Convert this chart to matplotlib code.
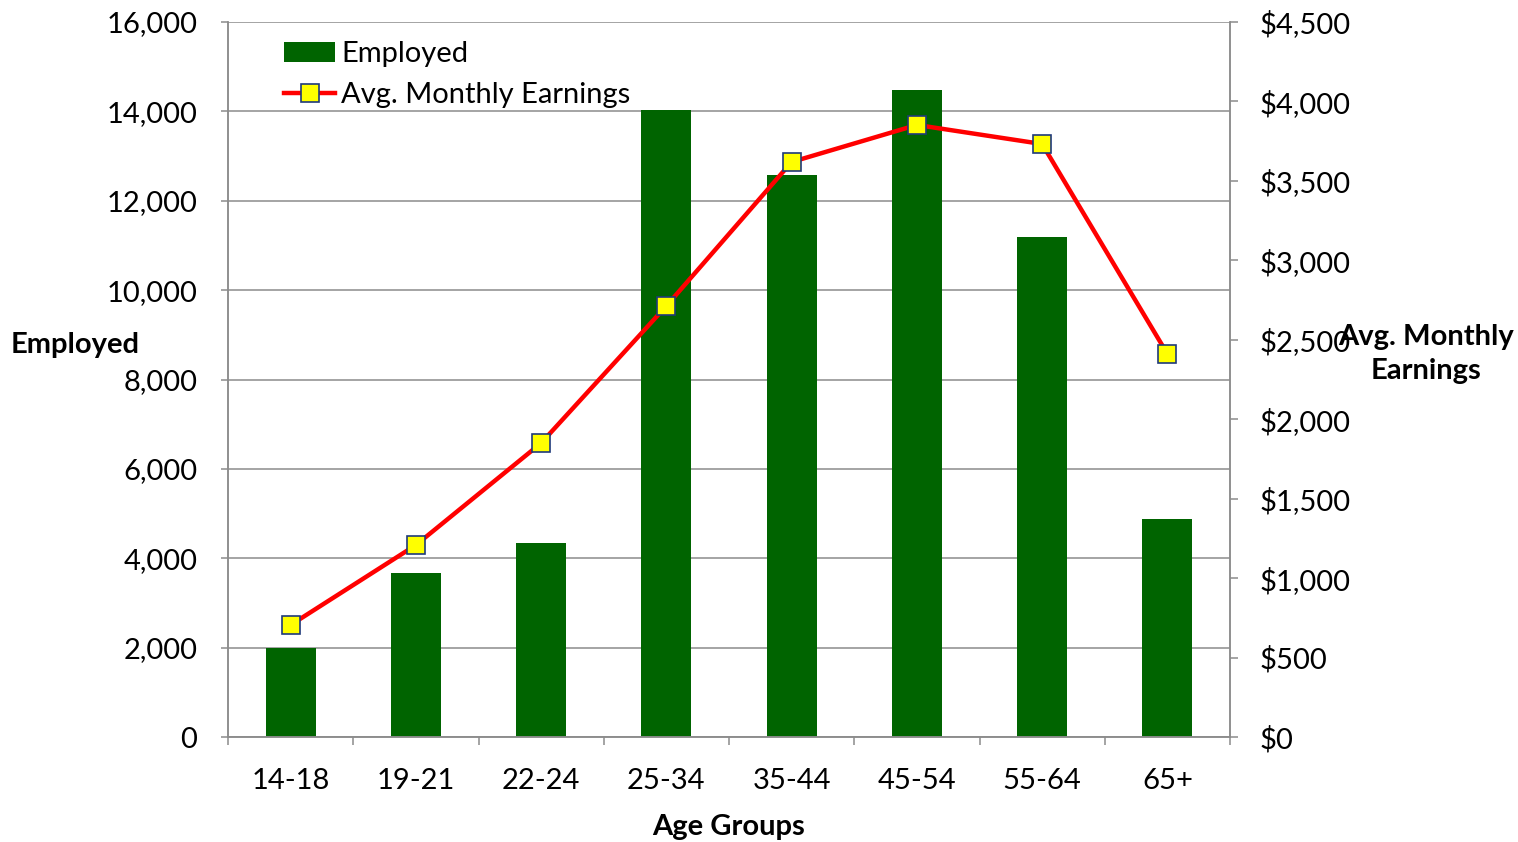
import matplotlib
matplotlib.use("Agg")
import matplotlib.pyplot as plt
import numpy as np
from matplotlib.ticker import FuncFormatter, FixedLocator

categories = ["14-18", "19-21", "22-24", "25-34", "35-44", "45-54", "55-64", "65+"]
employed = [1990, 3670, 4340, 14030, 12580, 14480, 11190, 4880]
earnings = [705, 1208, 1850, 2713, 3619, 3852, 3732, 2411]

plt.rcParams['font.family'] = ['Lato', 'DejaVu Sans']

fig = plt.figure(figsize=(15.18, 8.42), dpi=100)
W, H = 1518, 842
ax = fig.add_axes([228 / W, 1 - 737 / H, (1230 - 228) / W, (737 - 22) / H])
ax2 = ax.twinx()

FS = 21
x = np.arange(len(categories))
grid_c = "#8c8c8c"
ax.set_ylim(0, 16000)
ax.set_xlim(-0.5, len(categories) - 0.5)
ax.set_yticks(np.arange(0, 16001, 2000))
ax.yaxis.set_major_formatter(FuncFormatter(lambda v, p: f"{int(v):,}"))
ax.grid(axis='y', color=grid_c, linewidth=1.1)
ax.set_axisbelow(True)
bars = ax.bar(x, employed, width=0.4, color="#006400", label="Employed", zorder=2)

ax2.set_ylim(0, 4500)
ax2.set_yticks(np.arange(0, 4501, 500))
ax2.yaxis.set_major_formatter(FuncFormatter(lambda v, p: f"${int(v):,}"))
line, = ax2.plot(x, earnings, color="#ff0000", linewidth=3.2, marker='s', markersize=12.5,
                 markerfacecolor="#ffff00", markeredgecolor="#1f3a7a", markeredgewidth=1.2,
                 label="Avg. Monthly Earnings", zorder=3)

ax.set_xticks(x)
ax.set_xticklabels(categories)
ax.xaxis.set_minor_locator(FixedLocator(np.arange(-0.5, len(categories), 1.0)))
ax.tick_params(axis='x', which='major', length=0, pad=22, labelsize=FS)
ax.tick_params(axis='x', which='minor', length=5.5, width=1.1, color=grid_c, direction='out')
ax.tick_params(axis='y', length=5, width=1.1, color=grid_c, labelsize=FS, pad=17)
ax2.tick_params(axis='y', length=5.5, width=1.1, color=grid_c, labelsize=FS, pad=16)
for a in (ax, ax2):
    for s in a.spines.values():
        s.set_color(grid_c)
        s.set_linewidth(1.1)
    a.spines['top'].set_visible(False)

ax.set_xlabel("Age Groups", fontsize=FS, fontweight='bold', labelpad=15)
fig.text(75 / W, 1 - 345 / H, "Employed", fontsize=FS, fontweight='bold', ha='center', va='center')
fig.text(1426 / W, 1 - 354 / H, "Avg. Monthly\nEarnings", fontsize=FS, fontweight='bold',
         ha='center', va='center', linespacing=1.35)

leg = ax.legend([bars, line], ["Employed", "Avg. Monthly Earnings"], loc='upper left',
                bbox_to_anchor=(284 / W, 1 - 41 / H), bbox_transform=fig.transFigure,
                frameon=False, fontsize=FS, borderpad=0, borderaxespad=0,
                handlelength=1.75, handletextpad=0.2, labelspacing=0.52)

fig.savefig("out.png", dpi=100)
